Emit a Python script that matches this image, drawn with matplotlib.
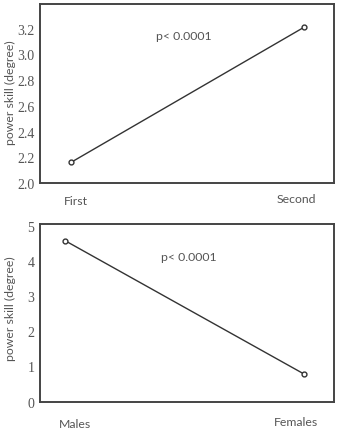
import numpy as np
import matplotlib.pyplot as plt
import matplotlib.transforms as mtransforms

# top panel: first vs second
sessions = ["First", "Second"]
session_vals = [2.16, 3.21]

# bottom panel: males vs females
genders = ["Males", "Females"]
gender_vals = [4.58, 0.78]

p_text = "p< 0.0001"
ylabel = "power skill (degree)"

grey = "#555555"
lab_font = "Lato"
num_font = "Liberation Serif"

fig = plt.figure(figsize=(3.38, 4.31), dpi=100)
ax1 = fig.add_axes([0.118, 0.573, 0.870, 0.415])
ax2 = fig.add_axes([0.118, 0.066, 0.870, 0.413])


def draw(ax, cats, vals, xlim, ylim, yticks, fmt, ptxt_xy, shifts, xpad, label_y):
    x = np.arange(len(cats))
    ax.plot(x, vals, color="#333333", lw=1.0, marker="o", ms=3.5,
            mfc="white", mec="#333333", mew=1.0)
    ax.set_xlim(*xlim)
    ax.set_ylim(*ylim)
    ax.set_xticks(x)
    ax.set_xticklabels(cats, family=lab_font, fontsize=8.8, color=grey)
    ax.tick_params(axis="x", length=0, pad=xpad)
    # nudge the category labels like in the original figure
    for lab, (dx, dy) in zip(ax.get_xticklabels(), shifts):
        off = mtransforms.ScaledTranslation(dx / 100, dy / 100, fig.dpi_scale_trans)
        lab.set_transform(lab.get_transform() + off)
    ax.set_yticks(yticks)
    ax.set_yticklabels([fmt.format(v) for v in yticks], family=num_font,
                       fontsize=10, color=grey)
    ax.tick_params(axis="y", length=0, pad=4)
    for s in ax.spines.values():
        s.set_color("#444444")
        s.set_linewidth(1.4)
    ax.set_ylabel(ylabel, family=lab_font, fontsize=8.8, color=grey)
    ax.yaxis.set_label_coords(-0.08, label_y)
    ax.text(ptxt_xy[0], ptxt_xy[1], p_text, family=lab_font, fontsize=8.8,
            color=grey, ha="center", va="center")


draw(ax1, sessions, session_vals, (-0.133, 1.129), (2.0, 3.39),
     [2.0, 2.2, 2.4, 2.6, 2.8, 3.0, 3.2], "{:.1f}", (0.485, 3.147),
     [(5, -1), (-8, 1)], 8, 0.51)
draw(ax2, genders, gender_vals, (-0.106, 1.124), (0, 5.07),
     [0, 1, 2, 3, 4, 5], "{:d}", (0.518, 4.12),
     [(10, -1), (-8, 1)], 11, 0.53)

fig.savefig("out.png", dpi=100)
